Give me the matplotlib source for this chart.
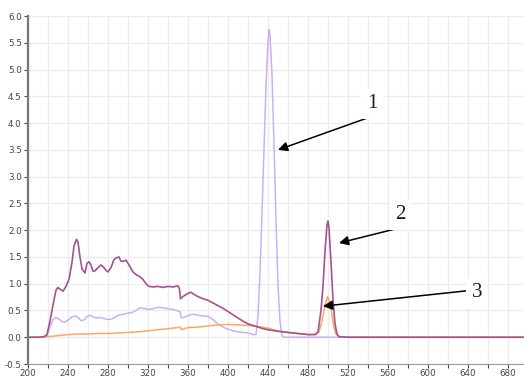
import matplotlib.pyplot as plt
import numpy as np

# series 1: light lavender (big peak near 440)
wl_light = [200, 216, 219, 222, 225, 228, 231, 234, 237, 240, 244, 247, 250, 253, 256, 259,
            262, 265, 268, 272, 276, 280, 284, 288, 292, 296, 300, 304, 308, 312, 316, 320,
            325, 330, 335, 340, 345, 350, 352, 353.5, 357, 362, 366, 370, 375, 380, 385,
            390, 395, 400, 405, 410, 415, 420, 425, 428, 430, 432, 434, 436, 438, 440, 441,
            442, 444, 446, 448, 450, 452, 454, 456, 500, 600, 696]
ab_light = [0.0, 0.0, 0.03, 0.2, 0.33, 0.37, 0.34, 0.29, 0.28, 0.32, 0.38, 0.4, 0.37, 0.31, 0.32, 0.39,
            0.41, 0.38, 0.36, 0.37, 0.35, 0.33, 0.34, 0.39, 0.42, 0.43, 0.45, 0.46, 0.5, 0.55, 0.54, 0.52,
            0.53, 0.56, 0.55, 0.53, 0.52, 0.49, 0.48, 0.36, 0.38, 0.42, 0.43, 0.41, 0.4, 0.39, 0.33,
            0.25, 0.19, 0.15, 0.12, 0.1, 0.09, 0.08, 0.05, 0.05, 0.4, 1.2, 2.3, 3.5, 4.7, 5.5, 5.75,
            5.65, 4.9, 3.6, 2.2, 1.0, 0.3, 0.03, 0.0, 0.0, 0.0, 0.0]

# series 3: orange
wl_orange = [200, 215, 220, 230, 240, 250, 260, 270, 280, 290, 300, 310, 320, 330, 340, 350,
             352, 353.5, 356, 360, 370, 380, 390, 400, 410, 420, 430, 440, 450, 460, 470, 480,
             488, 491, 494, 497, 499.5, 502, 504, 506, 508, 511, 520, 600, 696]
ab_orange = [0.0, 0.0, 0.01, 0.03, 0.05, 0.06, 0.06, 0.07, 0.07, 0.08, 0.09, 0.1, 0.12, 0.14, 0.16, 0.18,
             0.19, 0.14, 0.16, 0.18, 0.19, 0.21, 0.23, 0.24, 0.23, 0.22, 0.2, 0.17, 0.12, 0.09, 0.07, 0.05,
             0.05, 0.1, 0.3, 0.6, 0.76, 0.65, 0.4, 0.18, 0.06, 0.01, 0.0, 0.0, 0.0]

# series 2: dark magenta
wl_dark = [200, 210, 216, 219, 222, 225, 228, 230, 232, 235, 238, 241, 244, 246, 248.5, 250,
           252, 254, 257, 259, 261, 263, 265, 267, 270, 273, 276, 278, 280, 283, 286, 288,
           291, 293, 296, 298, 301, 305, 308, 312, 315, 318, 321, 325, 330, 335, 340, 345,
           350, 351.5, 352.5, 355, 360, 363, 366, 370, 375, 380, 385, 390, 395, 400, 405,
           410, 415, 420, 425, 430, 435, 440, 450, 460, 470, 480, 487, 490, 493, 495, 497,
           499, 500, 501, 503, 505, 507, 509, 511, 520, 600, 696]
ab_dark = [0.0, 0.0, 0.01, 0.05, 0.3, 0.6, 0.88, 0.93, 0.9, 0.86, 0.95, 1.08, 1.4, 1.7, 1.83, 1.78,
           1.5, 1.28, 1.2, 1.38, 1.41, 1.35, 1.23, 1.24, 1.3, 1.35, 1.3, 1.25, 1.22, 1.3, 1.45, 1.48,
           1.5, 1.42, 1.42, 1.44, 1.35, 1.22, 1.17, 1.13, 1.08, 1.0, 0.95, 0.94, 0.95, 0.93, 0.95, 0.94,
           0.96, 0.9, 0.72, 0.76, 0.82, 0.84, 0.8, 0.76, 0.72, 0.69, 0.64, 0.59, 0.54, 0.48, 0.42,
           0.36, 0.3, 0.25, 0.22, 0.19, 0.16, 0.14, 0.11, 0.09, 0.07, 0.05, 0.05, 0.1, 0.5, 0.95, 1.6,
           2.1, 2.17, 2.05, 1.4, 0.7, 0.25, 0.06, 0.01, 0.0, 0.0, 0.0]

labels = ['1', '2', '3']
label_xy = [(544, 4.36), (572, 2.29), (649, 0.83)]
arrow_from = [(540, 4.10), (571, 2.04), (645, 0.88)]
arrow_to = [(450, 3.50), (511, 1.76), (495, 0.58)]

fig = plt.figure(figsize=(5.24, 3.78), dpi=100)
ax = fig.add_axes([0.0534, 0.037, 0.9466, 0.9206])

ax.plot(wl_light, ab_light, color='#cbb0f2', lw=1.1)
ax.plot(wl_orange, ab_orange, color='#ffa75e', lw=1.1)
ax.plot(wl_dark, ab_dark, color='#a3548f', lw=1.2)

ax.set_xlim(200, 696)
ax.set_ylim(-0.5, 6.0)
ax.set_xticks(np.arange(200, 697, 40))
ax.set_xticks(np.arange(220, 697, 40), minor=True)
ax.set_yticks(np.arange(-0.5, 6.01, 0.5))
ax.set_yticklabels(['%.1f' % v for v in np.arange(-0.5, 6.01, 0.5)])
ax.grid(True, which='both', color='#ececec', lw=1)
ax.set_axisbelow(True)
ax.tick_params(labelsize=6.3, colors='#444444', length=3, width=0.8, pad=1.5)
ax.tick_params(axis='x', pad=0.5)
ax.tick_params(which='minor', length=3, width=0.8, color='#444444')
for s in ['top', 'right']:
    ax.spines[s].set_visible(False)
ax.spines['left'].set_color('#777777')
ax.spines['left'].set_linewidth(1.6)
ax.spines['bottom'].set_color('#999999')

for lab, pos, a, b in zip(labels, label_xy, arrow_from, arrow_to):
    ax.annotate('', xy=b, xytext=a,
                arrowprops=dict(arrowstyle='-|>', color='black', lw=1.1,
                                mutation_scale=14, shrinkA=0, shrinkB=0))
    ax.text(pos[0], pos[1], lab, fontsize=15, family='Liberation Serif', color='#1a1a33',
            ha='center', va='center',
            bbox=dict(facecolor='white', edgecolor='none', pad=4))

plt.savefig('out.png', dpi=100)
